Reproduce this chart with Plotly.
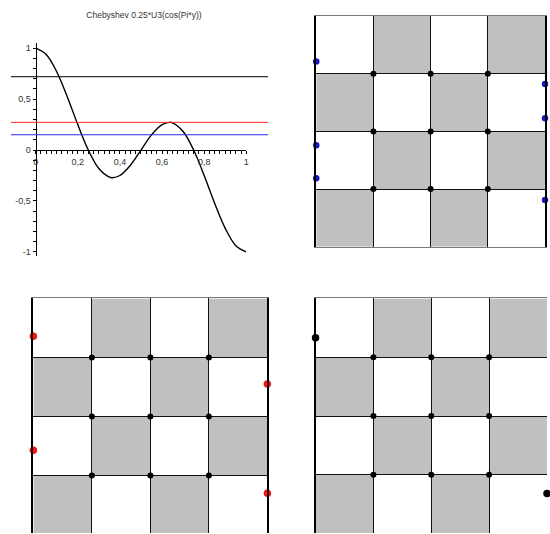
import plotly.graph_objects as go

W, H = 550, 534

# ---- Chebyshev curve 0.25*U3(cos(Pi*y)) sampled along y ----
curve_y = [0.0, 0.05, 0.1, 0.15, 0.2, 0.25, 0.3, 0.35, 0.365, 0.4, 0.45, 0.5,
           0.55, 0.6, 0.635, 0.65, 0.7, 0.75, 0.8, 0.85, 0.9, 0.95, 1.0]
curve_val = [1.0, 0.939, 0.769, 0.524, 0.25, 0.0, -0.182, -0.267, -0.272, -0.25, -0.149, 0.0,
             0.149, 0.25, 0.272, 0.267, 0.182, 0.0, -0.25, -0.524, -0.769, -0.939, -1.0]

# horizontal level lines
levels = [0.72, 0.272, 0.15]
level_colors = ["#000000", "#ff2a2a", "#2a2ae6"]

x_tick_vals = [0, 0.2, 0.4, 0.6, 0.8, 1]
x_tick_labels = ["0", "0,2", "0,4", "0,6", "0,8", "1"]
y_tick_vals = [-1, -0.5, 0, 0.5, 1]
y_tick_labels = ["-1", "-0,5", "0", "0,5", "1"]

# ---- checkerboards ----
# shading per row, listed from the top row down (1 = grey square)
checker = [[0, 1, 0, 1],
           [1, 0, 1, 0],
           [0, 1, 0, 1],
           [1, 0, 1, 0]]
inner_nodes = [1, 2, 3]

# heights of the edge nodes (board units, 0 = bottom edge)
blue_left = [3.21, 1.76, 1.19]
blue_right = [2.82, 2.23, 0.81]
red_left = [3.36, 1.43]
red_right = [2.55, 0.70]
black_left = [3.33]
black_right = [0.68]


def px_x(p):
    return p / W


def px_y(p):
    return 1 - p / H


FONT = "Liberation Sans, Arial, sans-serif"
fig = go.Figure()

# ---- function plot ----
fig.add_trace(go.Scatter(
    x=curve_y, y=curve_val, mode="lines", xaxis="x", yaxis="y",
    line=dict(color="black", width=1.4, shape="spline", smoothing=1.0),
    hoverinfo="skip", showlegend=False,
))
for lvl, col in zip(levels, level_colors):
    fig.add_shape(type="line", xref="paper", yref="y",
                  x0=px_x(8), x1=px_x(268), y0=lvl, y1=lvl,
                  line=dict(color=col, width=1), layer="above")

y_lo, y_hi = -1.036, 1.052
fig.update_layout(
    xaxis=dict(
        domain=[px_x(33), px_x(246)], range=[0, 1],
        anchor="free", position=px_y(150),
        showline=True, linecolor="black", linewidth=1,
        showgrid=False, zeroline=False,
        tickmode="array", tickvals=x_tick_vals, ticktext=x_tick_labels,
        ticks="outside", ticklen=3, tickcolor="black", tickwidth=1,
        minor=dict(tickmode="linear", tick0=0, dtick=0.025, ticks="outside",
                   ticklen=3, tickcolor="black", tickwidth=1, showgrid=False),
        tickfont=dict(size=9, color="#333", family=FONT),
    ),
    yaxis=dict(
        domain=[px_y(256), px_y(43)], range=[y_lo, y_hi],
        anchor="free", position=px_x(33),
        showline=True, linecolor="black", linewidth=1,
        showgrid=False, zeroline=False,
        tickmode="array", tickvals=y_tick_vals, ticktext=y_tick_labels,
        ticks="outside", ticklen=3, tickcolor="black", tickwidth=1,
        minor=dict(tickmode="linear", tick0=0, dtick=0.1, ticks="outside",
                   ticklen=3, tickcolor="black", tickwidth=1, showgrid=False),
        tickfont=dict(size=9, color="#333", family=FONT),
    ),
)

# ---- boards ----
n = len(checker)
boards = [
    # top right: blue nodes
    dict(k=2, dx=[px_x(316.7), px_x(548)], dy=[px_y(247.3), px_y(16)],
         rx=[0, n], ry=[0, n], xmirror=True, ymirror=True,
         left=blue_left, right=blue_right, color="#1616c4", size=6.5),
    # bottom left: red nodes
    dict(k=3, dx=[px_x(30.7), px_x(267.3)], dy=[0, px_y(299)],
         rx=[0, n], ry=[n - 235 / 59.15, n], xmirror=False, ymirror=True,
         left=red_left, right=red_right, color="#ff1010", size=7.5),
    # bottom right: black nodes, right edge sits on the page border
    dict(k=4, dx=[px_x(316), 1], dy=[0, px_y(299)],
         rx=[0, n], ry=[n - 235 / 58.9, n], xmirror=False, ymirror=False,
         left=black_left, right=black_right, color="#000000", size=7.5),
]

for b in boards:
    k = b["k"]
    xa, ya = f"x{k}", f"y{k}"
    # grey squares, drawn beneath the grid lines
    for i, row in enumerate(checker):
        for j, v in enumerate(row):
            if v:
                fig.add_shape(type="rect", xref=xa, yref=ya,
                              x0=j, x1=j + 1, y0=n - i - 1, y1=n - i,
                              fillcolor="#c0c0c0", line=dict(width=0), layer="below")
    fig.update_layout({
        f"xaxis{k}": dict(
            domain=b["dx"], range=b["rx"], anchor=ya,
            side="bottom" if b["xmirror"] else "top",
            showline=True, mirror=b["xmirror"], linecolor="#7a7a7a", linewidth=1,
            tickmode="array", tickvals=inner_nodes, showticklabels=False, ticks="",
            showgrid=True, gridcolor="#111", gridwidth=1, zeroline=False,
        ),
        f"yaxis{k}": dict(
            domain=b["dy"], range=b["ry"], anchor=xa,
            showline=True, mirror=b["ymirror"], linecolor="black", linewidth=2,
            tickmode="array", tickvals=inner_nodes, showticklabels=False, ticks="",
            showgrid=True, gridcolor="#111", gridwidth=1, zeroline=False,
        ),
    })
    # interior nodes
    fig.add_trace(go.Scatter(
        x=[i for i in inner_nodes for _ in inner_nodes],
        y=[j for _ in inner_nodes for j in inner_nodes],
        mode="markers", xaxis=xa, yaxis=ya, cliponaxis=False,
        marker=dict(color="black", size=6, line=dict(width=0)),
        hoverinfo="skip", showlegend=False,
    ))
    # edge nodes
    fig.add_trace(go.Scatter(
        x=[0] * len(b["left"]) + [n] * len(b["right"]),
        y=b["left"] + b["right"],
        mode="markers", xaxis=xa, yaxis=ya, cliponaxis=False,
        marker=dict(color=b["color"], size=b["size"], line=dict(width=0)),
        hoverinfo="skip", showlegend=False,
    ))

fig.update_layout(
    width=W, height=H, margin=dict(l=0, r=0, t=0, b=0),
    paper_bgcolor="white", plot_bgcolor="white",
    font=dict(family=FONT, size=9, color="#333"),
    title=dict(text="Chebyshev 0.25*U3(cos(Pi*y))", x=px_x(142.5), y=px_y(15),
               xref="paper", yref="paper", xanchor="center", yanchor="middle",
               font=dict(size=8.5, color="#333", family=FONT)),
    showlegend=False,
)

fig.write_html("out.html")
